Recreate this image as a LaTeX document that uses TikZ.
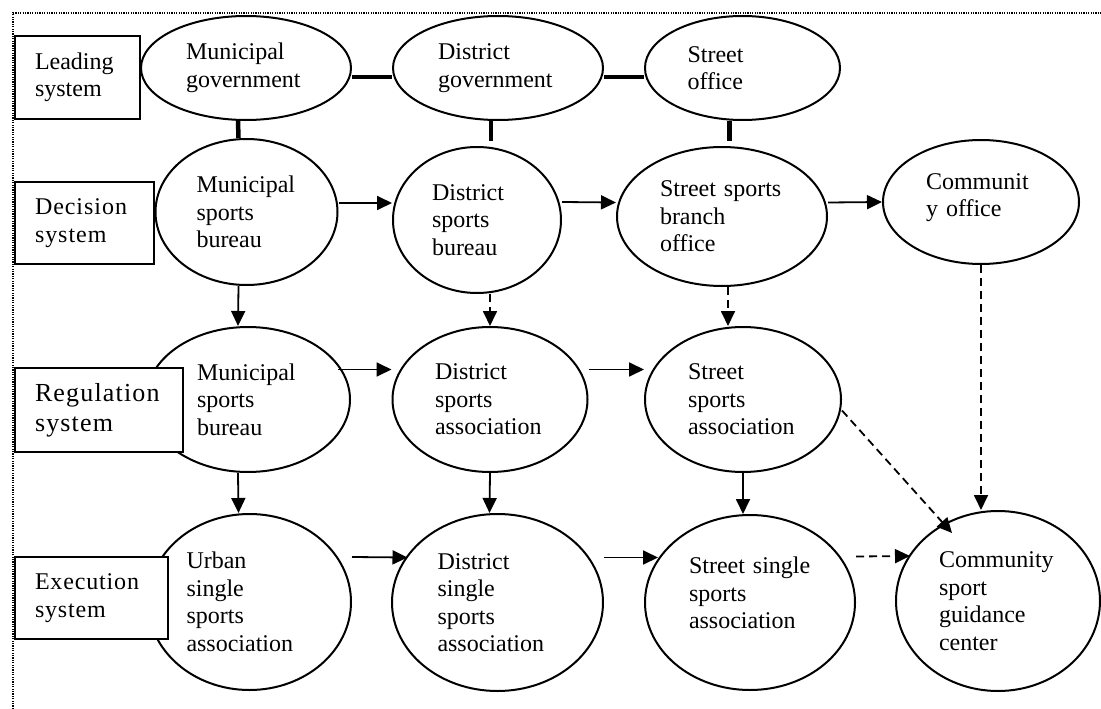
\documentclass[tikz,border=0pt]{standalone}
\usepackage{fontspec}
\setmainfont{Liberation Serif}
\usetikzlibrary{shapes.geometric,arrows.meta}
\begin{document}
\begin{tikzpicture}[x=1pt,y=-1pt,
  ell/.style={ellipse, draw, line width=2pt, inner sep=0pt, align=left, fill=white,
    font=\fontsize{24pt}{27.5pt}\selectfont},
  sysbox/.style={rectangle, draw, line width=1.8pt, fill=white, inner xsep=20pt, inner ysep=0pt, align=left},
  link/.style={line width=4.5pt},
  arr/.style={line width=1.8pt, -{Triangle[length=15pt,width=14pt]}},
  darr/.style={arr, dash pattern=on 8pt off 5pt},
  frame/.style={line width=1.5pt, dash pattern=on 1.2pt off 1.2pt, black}
]
\useasboundingbox (0,0) rectangle (1101,709);
\draw[frame] (13,709) -- (13,13) -- (1101,13);

% Leading row
\node[ell, minimum width=210pt, minimum height=104pt, text width=120pt] (mg) at (246,68) {Municipal\\government};
\node[ell, minimum width=210pt, minimum height=104pt, text width=120pt] (dg) at (498,68) {District\\government};
\node[ell, minimum width=195pt, minimum height=104pt, text width=110pt] (so) at (742.5,68) {Street\\office};
% Decision row
\node[ell, minimum width=182pt, minimum height=146pt, text width=100pt] (msb) at (246.5,212) {Municipal\\sports\\bureau};
\node[ell, minimum width=168pt, minimum height=146pt, text width=90pt] (dsb) at (477,220) {District\\sports\\bureau};
\node[ell, minimum width=210pt, minimum height=139pt, text width=124pt] (sbo) at (722,216.5) {Street sports\\branch\\office};
\node[ell, minimum width=196pt, minimum height=124pt, text width=110pt] (co) at (981,202) {Communit\\y office\\[-14pt]\mbox{}};
% Regulation row
\node[ell, minimum width=204pt, minimum height=145pt, text width=102pt] (mrb) at (248,399.5) {Municipal\\sports\\bureau};
\node[ell, minimum width=195pt, minimum height=145pt, text width=110pt] (dsa) at (490,399.5) {District\\sports\\association};
\node[ell, minimum width=196pt, minimum height=145pt, text width=110pt] (ssa) at (743,399.5) {Street\\sports\\association};
% Execution row
\node[ell, minimum width=203pt, minimum height=176pt, text width=126pt] (usa) at (249.5,602) {Urban\\single\\sports\\association};
\node[ell, minimum width=211pt, minimum height=177pt, text width=120pt] (dssa) at (497.5,602.5) {District\\single\\sports\\association};
\node[ell, minimum width=210pt, minimum height=175pt, text width=122pt] (sssa) at (750,602.5) {Street single\\sports\\association\\[-8pt]\mbox{}};
\node[ell, minimum width=204pt, minimum height=180pt, text width=118pt] (csgc) at (998,601) {Community\\sport\\guidance\\center};

% system boxes
\node[sysbox, minimum width=125pt, minimum height=83pt, text width=85pt,
  font=\fontsize{24pt}{26.5pt}\selectfont] (lead) at (77.5,77.5) {Leading\\system};
\node[sysbox, minimum width=139pt, minimum height=82pt, text width=99pt,
  font=\fontsize{24pt}{28pt}\selectfont\addfontfeatures{LetterSpace=4}] (dec) at (84.5,223) {Decision\\system};
\node[sysbox, minimum width=168pt, minimum height=84pt, text width=128pt,
  font=\fontsize{26pt}{30pt}\selectfont\addfontfeatures{LetterSpace=4.5}] (reg) at (99,410) {Regulation\\system};
\node[sysbox, minimum width=153pt, minimum height=82pt, text width=113pt,
  font=\fontsize{24pt}{28pt}\selectfont\addfontfeatures{LetterSpace=3.5}] (exe) at (91.5,598) {Execution\\system};

% leading links
\draw[link] ([yshift=-9pt]mg.east) -- ([yshift=-9pt]dg.west);
\draw[link] ([yshift=-9pt]dg.east) -- ([yshift=-9pt]so.west);
\draw[link] ([xshift=-8pt]mg.south) -- ([xshift=-8pt]msb.north);
\draw[link] ([xshift=-7pt]dg.south) -- ++(0,20);
\draw[link] ([xshift=-13pt]so.south) -- ++(0,20);

% decision arrows
\draw[arr] ([yshift=9pt]msb.east) -- ([yshift=17pt]dsb.west);
\draw[arr] ([yshift=18pt]dsb.east) -- ([yshift=14pt]sbo.west);
\draw[arr] ([yshift=14pt]sbo.east) -- (co.west);

% decision -> regulation
\draw[arr] ([xshift=-8pt]msb.south) -- ([xshift=-10pt]mrb.north);
\draw[darr] ([xshift=13pt]dsb.south) -- (dsa.north);
\draw[darr] ([xshift=6pt]sbo.south) -- ([xshift=-15pt]ssa.north);
\draw[darr] (co.south) -- ([xshift=-17pt]csgc.north);

% regulation arrows
\draw[arr] ([xshift=-13pt,yshift=30pt]mrb.east) -- ([yshift=30pt]dsa.west);
\draw[arr] ([yshift=30pt]dsa.east) -- ([yshift=30pt]ssa.west);
\draw[darr] ([yshift=-11pt]ssa.east) -- ([xshift=-46pt,yshift=68pt]csgc.center);

% regulation -> execution
\draw[arr] ([xshift=-10pt]mrb.south) -- ([xshift=-11pt]usa.north);
\draw[arr] (dsa.south) -- ([xshift=-8pt]dssa.north);
\draw[arr] (ssa.south) -- ([xshift=-7pt]sssa.north);

% execution arrows
\draw[arr] ([yshift=45pt]usa.east) -- ([xshift=-90pt,yshift=45pt]dssa.center);
\draw[arr] ([yshift=45pt]dssa.east) -- ([xshift=-92pt,yshift=45pt]sssa.center);
\draw[darr] ([yshift=46pt]sssa.east) -- ([xshift=-88pt,yshift=45pt]csgc.center);
\end{tikzpicture}
\end{document}
